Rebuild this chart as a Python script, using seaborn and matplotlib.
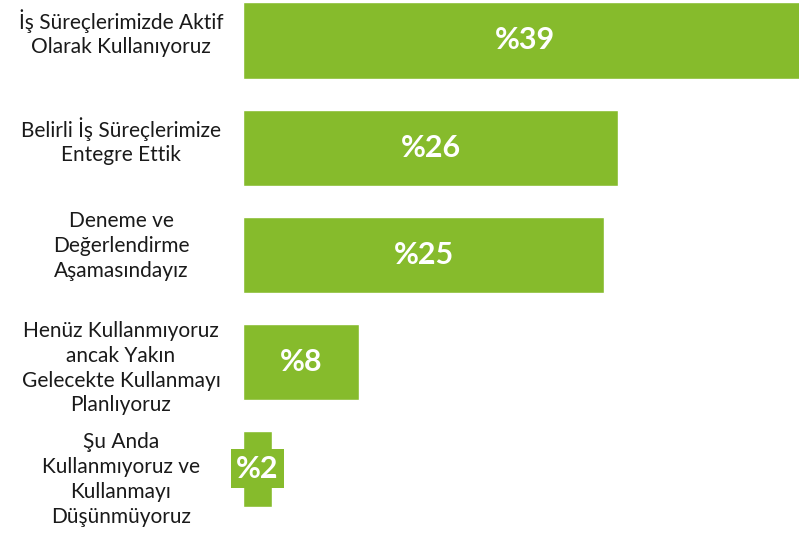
import matplotlib
matplotlib.use("Agg")
import matplotlib.pyplot as plt
import matplotlib.transforms as mtransforms
import seaborn as sns
import pandas as pd

categories = [
    "İş Süreçlerimizde Aktif\nOlarak Kullanıyoruz",
    "Belirli İş Süreçlerimize\nEntegre Ettik",
    "Deneme ve\nDeğerlendirme\nAşamasındayız",
    "Henüz Kullanmıyoruz\nancak Yakın\nGelecekte Kullanmayı\nPlanlıyoruz",
    "Şu Anda\nKullanmıyoruz ve\nKullanmayı\nDüşünmüyoruz",
]
values = [39, 26, 25, 8, 2]
value_labels = ["%39", "%26", "%25", "%8", "%2"]

GREEN = "#86BB2C"

sns.set_theme(style="white")
plt.rcParams["font.family"] = ["Lato", "DejaVu Sans"]

df = pd.DataFrame({"kategori": categories, "oran": values})

fig = plt.figure(figsize=(7.99, 5.33), dpi=100)
ax = fig.add_axes([243 / 799, 0, 1 - 243 / 799, 1])

sns.barplot(data=df, x="oran", y="kategori", orient="h", color=GREEN,
            saturation=1, width=0.71, ax=ax)

ax.set_xlim(0, 38.5)
ax.set_ylim(4.598, -0.378)
ax.set_xlabel("")
ax.set_ylabel("")
ax.set_xticks([])
ax.set_yticks([])
for s in ax.spines.values():
    s.set_visible(False)

# value labels in the middle of each bar
for i, (v, lab) in enumerate(zip(values, value_labels)):
    kw = {}
    if v < 5:
        kw["bbox"] = dict(boxstyle="square,pad=0.18", fc=GREEN, ec="none")
    ax.text(v / 2, i, lab, ha="center", va="center", color="white",
            fontsize=22, fontweight="bold", **kw)

# category labels centred to the left of the bars (small vertical nudges)
label_shift = [-0.07, -0.06, -0.08, 0.06, 0.10]
trans = mtransforms.blended_transform_factory(fig.transFigure, ax.transData)
for i, cat in enumerate(categories):
    ax.text(121 / 799, i + label_shift[i], cat, transform=trans, ha="center",
            va="center", multialignment="center", fontsize=15,
            color="#1a1a1a", linespacing=1.3, clip_on=False)

fig.savefig("out.png", dpi=100)
